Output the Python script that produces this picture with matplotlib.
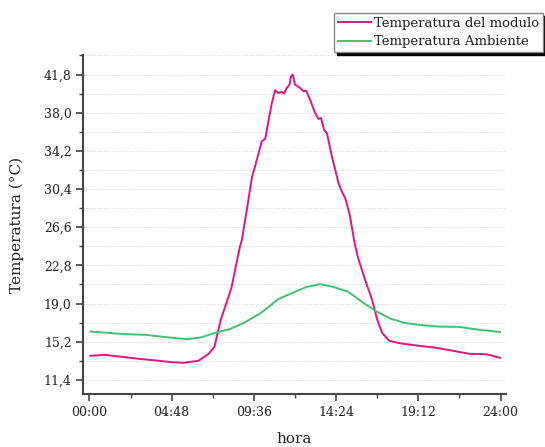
import matplotlib
matplotlib.use("Agg")
import matplotlib.pyplot as plt
from matplotlib.ticker import MultipleLocator

# hours since midnight
mod_h = [0.06, 0.88, 2.9, 3.92, 4.83, 5.44, 6.36, 6.96, 7.3, 7.67, 8.28, 8.79, 8.9,
         9.19, 9.48, 9.77, 10.06, 10.26, 10.45, 10.65, 10.84, 11.04, 11.23, 11.37,
         11.52, 11.68, 11.77, 11.87, 12.0, 12.14, 12.3, 12.5, 12.65, 12.88, 13.17,
         13.37, 13.51, 13.7, 13.86, 14.15, 14.54, 14.73, 14.93, 15.2, 15.48, 15.69,
         16.09, 16.5, 16.8, 17.1, 17.5, 18.12, 19.13, 20.15, 21.17, 22.18, 23.2, 23.97]
mod_t = [13.8, 13.9, 13.5, 13.33, 13.16, 13.1, 13.3, 14.0, 14.7, 17.4, 20.5, 24.7, 25.35,
         28.35, 31.5, 33.3, 35.15, 35.4, 37.15, 38.98, 40.24, 39.97, 40.07, 39.9,
         40.47, 40.8, 41.63, 41.8, 40.8, 40.64, 40.47, 40.14, 40.2, 39.3, 37.98,
         37.38, 37.48, 36.3, 35.98, 33.66, 31.0, 30.17, 29.5, 27.8, 25.0, 23.5,
         21.37, 19.37, 17.38, 16.05, 15.3, 15.05, 14.82, 14.62, 14.32, 14.0, 13.95, 13.6]

amb_h = [0.06, 1.89, 3.31, 4.52, 5.74, 6.56, 7.37, 8.18, 8.99, 10.0, 11.02, 12.03,
         12.64, 13.46, 14.27, 15.08, 15.89, 16.7, 17.51, 18.33, 19.14, 20.36, 21.57,
         22.79, 23.97]
amb_t = [16.22, 15.98, 15.88, 15.65, 15.45, 15.65, 16.11, 16.45, 17.05, 18.05, 19.44,
         20.2, 20.64, 20.94, 20.64, 20.2, 19.2, 18.27, 17.54, 17.1, 16.9, 16.71, 16.68,
         16.38, 16.18]

x_ticks = [0, 4.8, 9.6, 14.4, 19.2, 24]
x_labels = ["00:00", "04:48", "09:36", "14:24", "19:12", "24:00"]
y_ticks = [11.4, 15.2, 19.0, 22.8, 26.6, 30.4, 34.2, 38.0, 41.8]

plt.rcParams['font.family'] = ['DejaVu Serif']
txt = '#222222'

fig = plt.figure(figsize=(5.45, 4.47), dpi=100)
ax = fig.add_axes([0.153, 0.1186, 0.775, 0.7584])

ax.plot(mod_h, mod_t, color='#E6137F', lw=1.4, label='Temperatura del modulo')
ax.plot(amb_h, amb_t, color='#45C06E', lw=1.4, label='Temperatura Ambiente')

ax.set_xlim(-0.35, 24.3)
ax.set_ylim(10.0, 43.75)
ax.set_xticks(x_ticks)
ax.set_xticklabels(x_labels)
ax.xaxis.set_minor_locator(MultipleLocator(2.4))
ax.set_yticks(y_ticks)
ax.set_yticklabels([f"{v:.1f}".replace('.', ',') for v in y_ticks])
ax.yaxis.set_minor_locator(MultipleLocator(1.9))

ax.grid(axis='y', which='both', linestyle=(0, (1.5, 2)), color='#d0d0d0', lw=0.6)
for s in ['top', 'right']:
    ax.spines[s].set_visible(False)
for s in ['left', 'bottom']:
    ax.spines[s].set_color('#444444')
    ax.spines[s].set_linewidth(1.5)
ax.tick_params(which='major', direction='out', length=5, width=1.2, colors='#444444',
               labelcolor=txt, labelsize=9)
ax.tick_params(which='minor', direction='out', length=3, width=1.0, colors='#444444')
ax.tick_params(axis='x', pad=4)

ax.set_ylabel('Temperatura (°C)', fontsize=11, color=txt, labelpad=14)
ax.set_xlabel('hora', fontsize=11, color=txt, labelpad=9)

leg = fig.legend(loc='upper right', bbox_to_anchor=(0.9963, 0.971), borderaxespad=0,
                 fancybox=False, shadow={'color': 'black', 'alpha': 1},
                 edgecolor='#888888', fontsize=9.5, handlelength=2.5,
                 handletextpad=0.2, borderpad=0.3, labelspacing=0.42, framealpha=1)
for t in leg.get_texts():
    t.set_color(txt)

fig.savefig('out.png', dpi=100)
